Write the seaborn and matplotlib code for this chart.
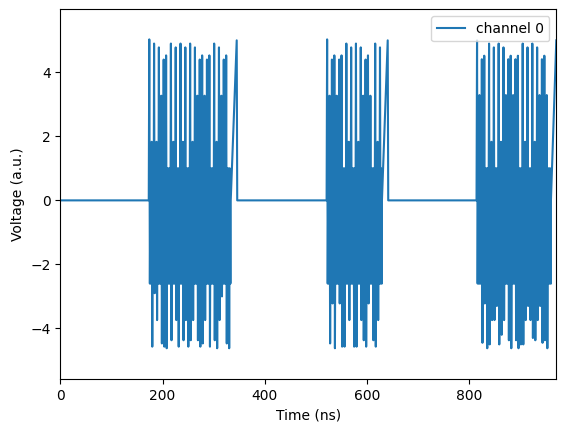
# Pulse sequence on channel 0: three readout bursts with idle time in between

import pandas as pd
import matplotlib
matplotlib.use("Agg")
import matplotlib.pyplot as plt
import seaborn as sns

# === Data ===
# sample groups inside a burst are 4.7 ns apart
# (one peak, one trough, then one sample at each edge of the dense band)
group_step = 4.7
band_hi = 1.0
band_lo = -2.6

# zero-level stretches before each burst (start, end) in ns
idle_t = [[0.0, 173.0], [346.0, 520.8], [641.3, 814.0]]

# burst start times (ns)
burst_t0 = [174.0, 521.8, 815.0]

# burst 1
burst1_hi = [5.03, 1.83, 4.9, 1.83, 4.78, 3.27, 4.4, 4.53, 1.0, 4.9, 1.83, 4.78,
             1.0, 4.9, 1.83, 4.78, 1.0, 4.9, 1.83, 4.78, 3.27, 4.4, 4.53, 3.27,
             4.4, 4.53, 1.0, 4.9, 1.83, 4.78, 3.27, 4.4, 4.53, 1.0]
burst1_lo = [-2.6, -4.57, -2.9, -3.74, -2.6, -4.47, -4.57, -4.62, -2.6, -4.37, -2.6, -3.74,
             -4.57, -2.6, -4.37, -3.74, -4.57, -4.37, -3.74, -2.6, -4.37, -4.57, -4.47, -3.74,
             -2.6, -4.57, -2.6, -4.37, -4.62, -3.74, -3.0, -2.6, -4.47, -4.62]

# burst 2
burst2_hi = [5.03, 3.27, 4.4, 4.53, 3.27, 4.4, 4.53, 1.0, 4.9, 1.83, 4.78, 1.0,
             4.9, 1.83, 4.78, 3.27, 4.4, 4.53, 3.27, 1.0, 4.9, 1.83, 4.78]
burst2_lo = [-2.6, -4.47, -3.22, -4.62, -2.6, -3.22, -4.57, -4.57, -2.6, -3.74, -2.6, -4.57,
             -4.57, -2.6, -3.74, -4.37, -4.57, -3.22, -2.6, -4.37, -4.57, -3.74, -2.6]

# burst 3 (runs into the end of the record)
burst3_hi = [5.0, 3.29, 4.41, 4.52, 1.0, 4.9, 1.83, 4.78, 1.0, 4.9, 1.83, 4.78,
             3.29, 4.41, 4.52, 3.29, 4.41, 4.52, 1.0, 4.9, 1.83, 4.78, 1.0, 4.9,
             1.83, 4.78, 3.29, 4.41, 4.52, 3.29, 1.0]
burst3_lo = [-2.6, -2.6, -4.45, -3.22, -4.62, -4.5, -3.74, -3.74, -3.3, -4.5, -4.2, -3.74,
             -2.6, -4.37, -4.62, -2.6, -4.37, -4.62, -4.5, -4.5, -3.74, -3.3, -3.74, -4.3,
             -4.37, -3.74, -3.3, -4.45, -4.37, -4.62, -2.6]

# ramp at the end of each burst
tail1_t = [333.3, 345.0]
tail1_v = [0.0, 5.0]
tail2_t = [629.0, 640.3]
tail2_v = [0.0, 5.0]
tail3_t = [959.5, 970.0]
tail3_v = [0.0, 5.0]

# === Build the trace ===
bursts = [
    (burst1_hi, burst1_lo, tail1_t, tail1_v),
    (burst2_hi, burst2_lo, tail2_t, tail2_v),
    (burst3_hi, burst3_lo, tail3_t, tail3_v),
]

times, volts = [], []
for (idle_start, idle_end), t0, (hi, lo, tail_t, tail_v) in zip(idle_t, burst_t0, bursts):
    times += [idle_start, idle_end]
    volts += [0.0, 0.0]
    for k, (h, l) in enumerate(zip(hi, lo)):
        tk = t0 + k * group_step
        times += [tk, tk + group_step / 4, tk + group_step / 2, tk + 3 * group_step / 4]
        volts += [h, l, band_hi, band_lo]
    times += tail_t
    volts += tail_v

df = pd.DataFrame({"time": times, "voltage": volts})

# === Plot ===
fig = plt.figure(figsize=(5.65, 4.32), dpi=100)
ax = fig.add_axes([60.3 / 565, 52.7 / 432, 496 / 565, 370 / 432])

sns.lineplot(data=df, x="time", y="voltage", ax=ax, label="channel 0",
             color="#1f77b4", linewidth=1.5, estimator=None, sort=False)

ax.set_xlim(0, 970)
ax.set_ylim(-5.59, 5.97)
ax.set_xticks([0, 200, 400, 600, 800])
ax.set_yticks([-4, -2, 0, 2, 4])
ax.set_xlabel("Time (ns)")
ax.set_ylabel("Voltage (a.u.)")
ax.legend(loc="upper right")

fig.savefig("out.png", dpi=100)
